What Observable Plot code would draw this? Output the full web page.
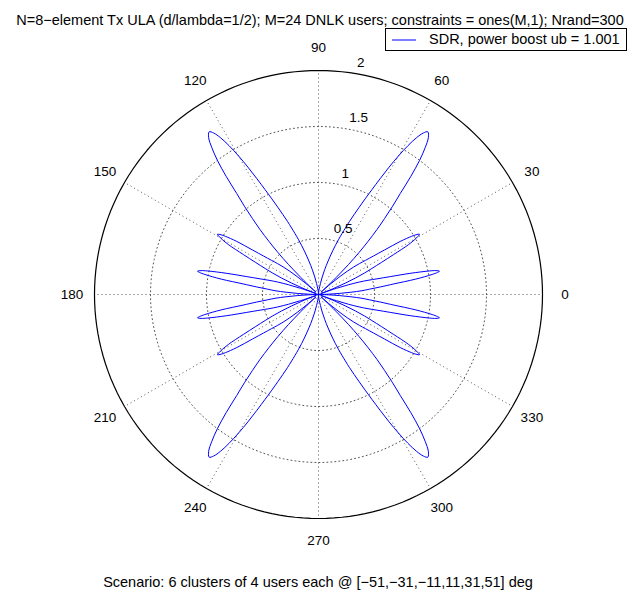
<!DOCTYPE html>
<html><head><meta charset="utf-8">
<script src="https://cdn.jsdelivr.net/npm/d3@7"></script>
<script src="https://cdn.jsdelivr.net/npm/@observablehq/plot@0.6"></script>
<style>
html,body{margin:0;padding:0;background:#fff;}
#wrap{position:relative;width:628px;height:592px;overflow:hidden;font-family:"Liberation Sans",Arial,Helvetica,sans-serif;color:#000;}
#wrap > svg{position:absolute;left:0;top:0;}
#wrap .title{position:absolute;top:12px;left:320px;transform:translateX(-50%);white-space:nowrap;font-size:14.5px;line-height:17px;}
#wrap .caption{position:absolute;top:574px;left:318px;transform:translateX(-50%);white-space:nowrap;font-size:14.5px;line-height:17px;}
#wrap .legend{position:absolute;left:385px;top:28px;width:240px;height:21px;border:1px solid #000;background:#fff;white-space:nowrap;}
#wrap .legend svg{position:absolute;left:6px;top:10px;}
#wrap .legend span{position:absolute;left:43px;top:2px;font-size:14.5px;line-height:17px;}
</style></head>
<body><div id="wrap"></div>
<script>
// first-quadrant pattern (angle in degrees, radius)
const thetaDeg = [0,1,2,3,4,5,6,7,8,9,10,10.5,10.9,11.5,12,13,14,15,16,17,18,19,20,20.5,
  21,22,23,24,25,26,27,28,29,30,30.8,31.5,32,33,34,35,36,37,38,39,40,41,42,42.5,
  43,44,45,46,47,48,49,50,51,52,53,54,55,56.1,57,58,59,60,61,62,63,64,65,66,67,68,70,72,74,76,78,80,83,86,90];
const radius = [0,0.02,0.09,0.19,0.29,0.39,0.46,0.56,0.68,0.88,1.03,1.08,1.10,1.07,1.01,0.84,0.66,0.54,0.46,0.38,0.28,0.17,0.07,0.02,
  0.06,0.16,0.26,0.36,0.45,0.53,0.63,0.76,0.92,1.01,1.05,1.02,0.98,0.87,0.71,0.60,0.52,0.46,0.40,0.33,0.25,0.16,0.08,0.03,
  0.08,0.22,0.38,0.52,0.65,0.78,0.90,1.03,1.16,1.34,1.50,1.62,1.71,1.75,1.72,1.65,1.55,1.43,1.30,1.17,1.05,0.95,0.86,0.78,0.71,0.64,0.52,0.41,0.31,0.23,0.16,0.10,0.05,0.02,0];
const angleTicks = [0,30,60,90,120,150,180,210,240,270,300,330];
const radialTicks = [0.5,1,1.5,2];
const rMax = 2;
const titleText = "N=8\u2212element Tx ULA (d/lambda=1/2); M=24 DNLK users; constraints = ones(M,1); Nrand=300";
const legendLabel = "SDR, power boost ub = 1.001";
const captionText = "Scenario: 6 clusters of 4 users each @ [\u221251,\u221231,\u221211,11,31,51] deg";

const W = 628, H = 592, cx = 318, cy = 294, ppu = 112;
const rad = d => d * Math.PI / 180;

// full pattern, symmetric about both axes as in the picture
const q1 = thetaDeg.map((t, i) => ({t, r: radius[i]}));
const full = [
  ...q1,
  ...q1.slice().reverse().map(d => ({t: 180 - d.t, r: d.r})),
  ...q1.map(d => ({t: 180 + d.t, r: d.r})),
  ...q1.slice().reverse().map(d => ({t: 360 - d.t, r: d.r}))
];
const curvePts = full.map(d => ({x: d.r * Math.cos(rad(d.t)), y: d.r * Math.sin(rad(d.t))}));

const circ = [];
for (const v of radialTicks) for (let a = 0; a <= 360; a += 2) circ.push({v, x: v * Math.cos(rad(a)), y: v * Math.sin(rad(a))});

const chart = Plot.plot({
  width: W, height: H, margin: 0,
  x: {domain: [-cx / ppu, (W - cx) / ppu], axis: null},
  y: {domain: [-(H - cy) / ppu, cy / ppu], axis: null},
  style: {fontFamily: "'Liberation Sans', Arial, Helvetica, sans-serif", background: "transparent"},
  marks: [
    Plot.link(angleTicks, {x1: 0, y1: 0, x2: a => rMax * Math.cos(rad(a)), y2: a => rMax * Math.sin(rad(a)),
      stroke: "#555", strokeWidth: 1, strokeDasharray: "1,3"}),
    Plot.line(circ.filter(d => d.v < rMax), {x: "x", y: "y", z: "v", stroke: "#555", strokeWidth: 1, strokeDasharray: "1,3"}),
    Plot.line(circ.filter(d => d.v === rMax), {x: "x", y: "y", stroke: "#000", strokeWidth: 1.2}),
    Plot.line(curvePts, {x: "x", y: "y", stroke: "#0000ff", strokeWidth: 1, curve: "catmull-rom"}),
    Plot.text(angleTicks, {x: a => 1.1 * rMax * Math.cos(rad(a)), y: a => 1.1 * rMax * Math.sin(rad(a)),
      text: a => String(a), fontSize: 13.5, fill: "#000"}),
    Plot.text(radialTicks, {x: v => (v + 0.025) * Math.cos(rad(82)), y: v => (v + 0.025) * Math.sin(rad(82)),
      text: v => String(v), textAnchor: "start", lineAnchor: "bottom", dx: 7, dy: -3, fontSize: 13.5, fill: "#000"})
  ]
});

const wrap = document.getElementById("wrap");
wrap.appendChild(chart);
const t = document.createElement("div"); t.className = "title"; t.textContent = titleText; wrap.appendChild(t);
const c = document.createElement("div"); c.className = "caption"; c.textContent = captionText; wrap.appendChild(c);
const lg = document.createElement("div"); lg.className = "legend";
lg.innerHTML = '<svg width="26" height="2"><line x1="0" y1="1" x2="24" y2="1" stroke="#0000ff" stroke-width="1"/></svg>';
const sp = document.createElement("span"); sp.textContent = legendLabel; lg.appendChild(sp);
wrap.appendChild(lg);
</script>
</body></html>
